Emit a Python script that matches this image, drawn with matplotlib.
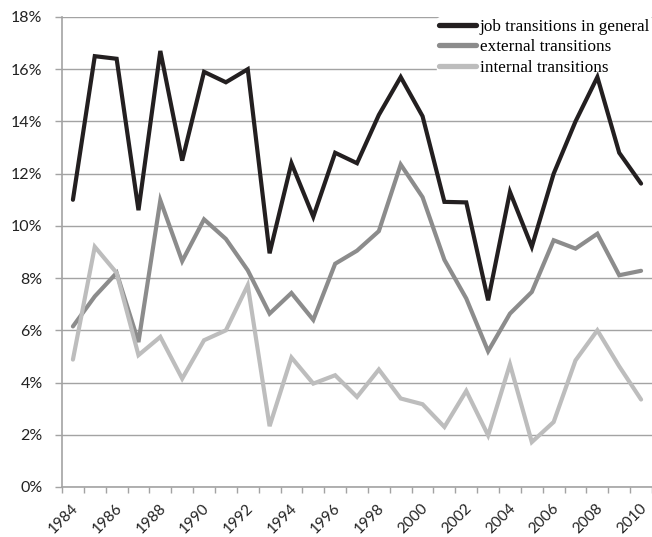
import numpy as np
import matplotlib
matplotlib.use("Agg")
import matplotlib.pyplot as plt
from matplotlib.ticker import FixedLocator, FuncFormatter
from matplotlib.transforms import ScaledTranslation

# данные (в процентах)
years = list(range(1984, 2011))
job_general = [11.0, 16.5, 16.4, 10.6, 16.7, 12.5, 15.9, 15.5, 16.0, 8.95,
               12.4, 10.35, 12.8, 12.4, 14.25, 15.7, 14.2, 10.92, 10.9, 7.15,
               11.3, 9.2, 12.0, 14.0, 15.7, 12.8, 11.62]
external = [6.15, 7.3, 8.2, 5.55, 10.98, 8.65, 10.25, 9.5, 8.3, 6.64,
            7.43, 6.4, 8.55, 9.05, 9.8, 12.35, 11.1, 8.7, 7.22, 5.2,
            6.64, 7.47, 9.45, 9.13, 9.7, 8.11, 8.28]
internal = [4.88, 9.2, 8.2, 5.05, 5.75, 4.15, 5.62, 6.0, 7.73, 2.33,
            4.96, 3.96, 4.28, 3.45, 4.5, 3.39, 3.17, 2.3, 3.68, 1.98,
            4.7, 1.72, 2.49, 4.85, 6.0, 4.62, 3.35]
series_names = ["job transitions in general", "external transitions", "internal transitions"]
series_colors = ["#231f20", "#8c8c8c", "#bdbdbd"]

fig = plt.figure(figsize=(6.52, 5.37), dpi=100)
ax = fig.add_axes([62 / 652, 1 - 487 / 537, 590 / 652, 470 / 537])

x = np.arange(len(years))
for vals, name, col in zip([job_general, external, internal], series_names, series_colors):
    ax.plot(x, vals, color=col, lw=3.0, label=name, solid_joinstyle="miter",
            solid_capstyle="round", zorder=3)

grid_col = "#a3a3a3"
ax.set_xlim(-0.5, len(years) - 0.5)
ax.set_ylim(0, 18)
ax.set_yticks(np.arange(0, 19, 2))
ax.yaxis.set_major_formatter(FuncFormatter(lambda v, p: f"{v:.0f}%"))
ax.grid(axis="y", color=grid_col, lw=1.0, zorder=0)

# метки годов через один, засечки на границах категорий
ax.set_xticks(x[::2])
ax.set_xticklabels([str(y) for y in years[::2]], rotation=45, ha="right")
ax.xaxis.set_minor_locator(FixedLocator(np.arange(-0.5, len(years), 1.0)))
ax.tick_params(axis="x", which="major", length=0, pad=10)
ax.tick_params(axis="x", which="minor", length=4, color=grid_col, width=1.0)
ax.tick_params(axis="y", length=5, color=grid_col, width=1.0, pad=9)
for lab in ax.get_yticklabels():
    lab.set_fontfamily(["Lato", "DejaVu Sans"])
    lab.set_fontsize(11.5)
    lab.set_color("#222222")
for lab in ax.get_xticklabels():
    lab.set_fontfamily(["Lato", "DejaVu Sans"])
    lab.set_fontsize(11)
    lab.set_color("#222222")
    lab.set_transform(lab.get_transform() + ScaledTranslation(6 / 72, 0, fig.dpi_scale_trans))

for side in ["top", "right"]:
    ax.spines[side].set_visible(False)
for side in ["left", "bottom"]:
    ax.spines[side].set_color(grid_col)
    ax.spines[side].set_linewidth(1.2)

# белая подложка легенды закрывает сетку, но не линии
leg = ax.legend(loc="upper right", bbox_to_anchor=(1.0, 1.0), frameon=True,
                prop={"family": ["Liberation Serif"], "size": 12.3},
                handlelength=2.2, handletextpad=0.2, labelspacing=0.27,
                borderpad=0.1, borderaxespad=0)
leg.get_frame().set_facecolor("white")
leg.get_frame().set_edgecolor("white")
leg.get_frame().set_alpha(1.0)
leg.set_zorder(2.5)
for h in leg.get_lines():
    h.set_linewidth(3.8)

fig.savefig("out.png", dpi=100)
